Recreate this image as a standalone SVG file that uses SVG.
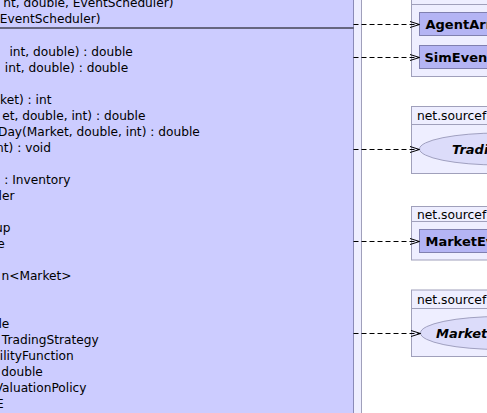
<svg xmlns="http://www.w3.org/2000/svg" width="487" height="413" viewBox="0 0 487 413">
<style>
.pkg{fill:#eeeeff;stroke:#a0a0bb;stroke-width:1}
.cls{fill:#ccccff;stroke:#8a8ab8;stroke-width:1}
.sub{fill:#b4b4f4;stroke:#8080b0;stroke-width:1}
.ell{fill:#dcdcfa;stroke:#a0a0c0;stroke-width:1}
text{font-family:"DejaVu Sans",Verdana,sans-serif;font-size:12.2px;fill:#000}
.e{text-anchor:end}
.h{font-size:12.3px}
.b{font-weight:bold;font-size:13px}
.bi{font-weight:bold;font-style:italic;font-size:13px}
.dep{fill:none;stroke:#000;stroke-width:1;stroke-dasharray:5,3}
.hd{fill:none;stroke:#000;stroke-width:1}
</style>
<rect x="0" y="0" width="487" height="413" fill="#ffffff"/>
<g id="outer-package">
<rect class="pkg" x="-20" y="-20" width="381.5" height="460"/>
</g>
<g id="main-class">
<rect class="cls" x="-20" y="-20" width="373.5" height="460"/>
<line x1="-20" y1="28" x2="353.5" y2="28" stroke="#000" stroke-width="1"/>
<text class="e" x="173.5" y="7">nt, double, EventScheduler)</text>
<text class="e" x="100.5" y="23">EventScheduler)</text>
<text class="e" x="132.8" y="56">int, double) : double</text>
<text class="e" x="128.2" y="72">int, double) : double</text>
<text class="e" x="51.5" y="104">ket) : int</text>
<text class="e" x="145.5" y="120">et, double, int) : double</text>
<text class="e" x="199.8" y="136">Day(Market, double, int) : double</text>
<text class="e" x="51" y="152">nt) : void</text>
<text class="e" x="70.5" y="184">: Inventory</text>
<text class="e" x="14.5" y="200">ler</text>
<text class="e" x="10.5" y="232">up</text>
<text class="e" x="4.8" y="248">e</text>
<text class="e" x="71.5" y="280">n&lt;Market&gt;</text>
<text class="e" x="9.3" y="328">le</text>
<text class="e" x="98.8" y="344">TradingStrategy</text>
<text class="e" x="73.8" y="360">ilityFunction</text>
<text class="e" x="42.8" y="376">double</text>
<text class="e" x="86.5" y="392">ValuationPolicy</text>
<text class="e" x="3.8" y="408">E</text>
</g>
<g id="pkg1">
<rect class="pkg" x="411.5" y="-20" width="100" height="96.5"/>
<line x1="411.5" y1="4.5" x2="511" y2="4.5" stroke="#a0a0bb"/>
<g id="AgentArr">
<rect class="sub" x="419.5" y="12.5" width="90" height="23"/>
<text class="b" x="425.5" y="28.5">AgentArr</text>
</g>
<g id="SimEvent">
<rect class="sub" x="419.5" y="45.5" width="90" height="23"/>
<text class="b" x="424.5" y="61.5">SimEvent</text>
</g>
</g>
<g id="pkg2">
<rect class="pkg" x="411.5" y="106.5" width="100" height="67"/>
<line x1="411.5" y1="124.5" x2="511" y2="124.5" stroke="#a0a0bb"/>
<text class="h" x="417" y="120">net.sourcef</text>
<g id="TradingStrategy">
<ellipse class="ell" cx="499.5" cy="149" rx="80" ry="16"/>
<text class="bi" x="452" y="153.5">Tradi</text>
</g>
</g>
<g id="pkg3">
<rect class="pkg" x="411.5" y="206.5" width="100" height="53.5"/>
<line x1="411.5" y1="221.5" x2="511" y2="221.5" stroke="#a0a0bb"/>
<text class="h" x="417" y="218.5">net.sourcef</text>
<g id="MarketEv">
<rect class="sub" x="419.5" y="229.5" width="90" height="23"/>
<text class="b" x="425.5" y="245.5">MarketEv</text>
</g>
</g>
<g id="pkg4">
<rect class="pkg" x="411.5" y="290" width="100" height="66.5"/>
<line x1="411.5" y1="308.5" x2="511" y2="308.5" stroke="#a0a0bb"/>
<text class="h" x="417" y="303.5">net.sourcef</text>
<g id="MarketEll">
<ellipse class="ell" cx="500.5" cy="333" rx="80" ry="16.5"/>
<text class="bi" x="436" y="337.5">Market</text>
</g>
</g>
<g id="connectors">
<line class="dep" x1="353.5" y1="24.5" x2="419" y2="24.5"/>
<polyline class="hd" points="410,21.5 419.5,24.5 410,27.5"/>
<line class="dep" x1="353.5" y1="57.5" x2="419" y2="57.5"/>
<polyline class="hd" points="410,54.5 419.5,57.5 410,60.5"/>
<line class="dep" x1="353.5" y1="149.5" x2="419" y2="149.5"/>
<polyline class="hd" points="410,146.5 419.5,149.5 410,152.5"/>
<line class="dep" x1="353.5" y1="241.5" x2="419" y2="241.5"/>
<polyline class="hd" points="410,238.5 419.5,241.5 410,244.5"/>
<line class="dep" x1="353.5" y1="333.5" x2="420.5" y2="333.5"/>
<polyline class="hd" points="411,330.5 420.5,333.5 411,336.5"/>
</g>
</svg>
